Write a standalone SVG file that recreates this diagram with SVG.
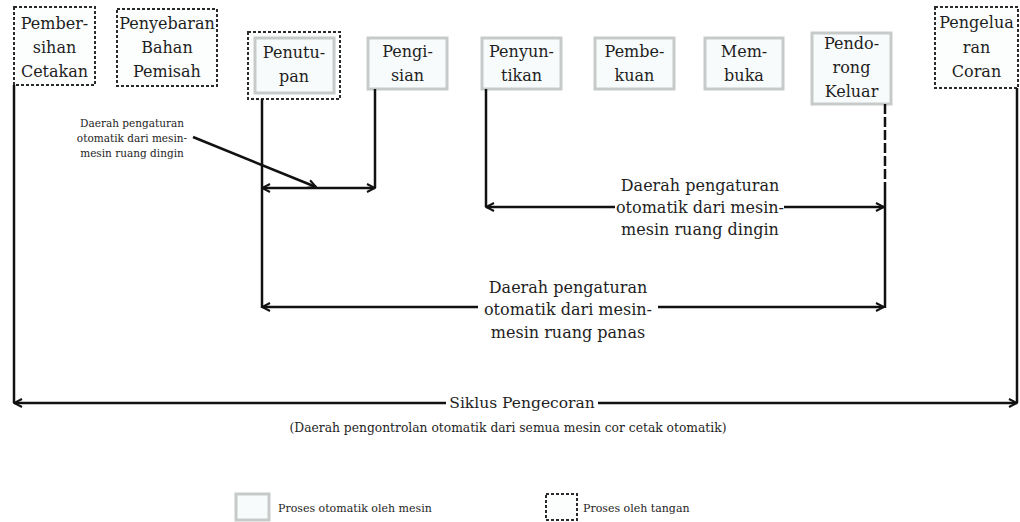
<svg xmlns="http://www.w3.org/2000/svg" width="1020" height="522" viewBox="0 0 1020 522">
<defs>
<marker id="ah" viewBox="0 0 10 10" refX="9" refY="5" markerWidth="10" markerHeight="10" markerUnits="userSpaceOnUse" orient="auto-start-reverse"><path d="M1,1 L9,5 L1,9" fill="none" stroke="#111" stroke-width="2"/></marker>
</defs>
<style>
.auto{fill:#f8fbfb;stroke:#c6cbca;stroke-width:3}
.manual{fill:#fcfdfd;stroke:#2a2a2a;stroke-width:2;stroke-dasharray:3 2}
.t{font-family:"DejaVu Serif","Liberation Serif",serif;font-size:16px;fill:#1e1e1e;text-anchor:middle}
.s{font-family:"DejaVu Serif","Liberation Serif",serif;font-size:10.5px;fill:#1e1e1e;text-anchor:middle}
.m{font-family:"DejaVu Serif","Liberation Serif",serif;font-size:12.3px;fill:#1e1e1e}
.ln{fill:none;stroke:#111;stroke-width:2.5}
</style>
<rect width="1020" height="522" fill="#ffffff"/>

<g id="node-pembersihan">
<rect class="manual" x="14" y="7" width="81" height="78"/>
<text class="t" x="54.5" y="29">Pember-</text>
<text class="t" x="54.5" y="53">sihan</text>
<text class="t" x="54.5" y="77">Cetakan</text>
</g>
<g id="node-penyebaran">
<rect class="manual" x="117" y="9" width="100" height="77"/>
<text class="t" x="167" y="29">Penyebaran</text>
<text class="t" x="167" y="53">Bahan</text>
<text class="t" x="167" y="77">Pemisah</text>
</g>
<g id="node-penutupan">
<rect class="manual" x="248" y="32" width="92" height="67"/>
<rect class="auto" x="255" y="38" width="79" height="55"/>
<text class="t" x="294" y="58">Penutu-</text>
<text class="t" x="294" y="82">pan</text>
</g>
<g id="node-pengisian">
<rect class="auto" x="368" y="38" width="79" height="51"/>
<text class="t" x="407.5" y="57">Pengi-</text>
<text class="t" x="407.5" y="81">sian</text>
</g>
<g id="node-penyuntikan">
<rect class="auto" x="482" y="38" width="79" height="51"/>
<text class="t" x="521.5" y="57">Penyun-</text>
<text class="t" x="521.5" y="81">tikan</text>
</g>
<g id="node-pembekuan">
<rect class="auto" x="595" y="38" width="79" height="51"/>
<text class="t" x="634.5" y="57">Pembe-</text>
<text class="t" x="634.5" y="81">kuan</text>
</g>
<g id="node-membuka">
<rect class="auto" x="705" y="38" width="78" height="51"/>
<text class="t" x="744" y="57">Mem-</text>
<text class="t" x="744" y="81">buka</text>
</g>
<g id="node-pendorong">
<rect class="auto" x="812" y="33" width="79" height="71"/>
<text class="t" x="851.5" y="49">Pendo-</text>
<text class="t" x="851.5" y="73">rong</text>
<text class="t" x="851.5" y="97">Keluar</text>
</g>
<g id="node-pengeluaran">
<rect class="manual" x="935" y="7" width="83" height="81"/>
<text class="t" x="976.5" y="28">Pengelua</text>
<text class="t" x="976.5" y="53">ran</text>
<text class="t" x="976.5" y="77">Coran</text>
</g>

<g id="connectors">
<line class="ln" x1="14" y1="85" x2="14" y2="403"/>
<line class="ln" x1="1017" y1="88" x2="1017" y2="403"/>
<line class="ln" x1="262" y1="99" x2="262" y2="308"/>
<line class="ln" x1="375" y1="89" x2="375" y2="188"/>
<line class="ln" x1="486" y1="89" x2="486" y2="207"/>
<line class="ln" x1="885" y1="104" x2="885" y2="190" stroke-dasharray="10 3"/>
<line class="ln" x1="885" y1="190" x2="885" y2="308"/>
<line class="ln" x1="262" y1="188" x2="375" y2="188" marker-start="url(#ah)" marker-end="url(#ah)"/>
<line class="ln" x1="193" y1="137" x2="316" y2="187" marker-end="url(#ah)"/>
<polyline class="ln" points="615,207 486,207" marker-end="url(#ah)"/>
<polyline class="ln" points="784,207 884,207" marker-end="url(#ah)"/>
<polyline class="ln" points="478,307 262,307" marker-end="url(#ah)"/>
<polyline class="ln" points="658,307 884,307" marker-end="url(#ah)"/>
<polyline class="ln" points="446,403 14,403" marker-end="url(#ah)"/>
<polyline class="ln" points="598,403 1017,403" marker-end="url(#ah)"/>
</g>

<g id="labels">
<text class="s" x="132" y="127">Daerah pengaturan</text>
<text class="s" x="132" y="142">otomatik dari mesin-</text>
<text class="s" x="132" y="157">mesin ruang dingin</text>
<text class="t" x="700" y="191">Daerah pengaturan</text>
<text class="t" x="700" y="213">otomatik dari mesin-</text>
<text class="t" x="700" y="235">mesin ruang dingin</text>
<text class="t" x="568" y="293">Daerah pengaturan</text>
<text class="t" x="568" y="315">otomatik dari mesin-</text>
<text class="t" x="568" y="338">mesin ruang panas</text>
<text class="t" x="522" y="408" style="font-size:15.5px">Siklus Pengecoran</text>
<text class="m" x="508" y="432" text-anchor="middle">(Daerah pengontrolan otomatik dari semua mesin cor cetak otomatik)</text>
</g>

<g id="legend">
<rect class="auto" x="236" y="494" width="33" height="26"/>
<text class="m" x="278" y="512" style="font-size:11px">Proses otomatik oleh mesin</text>
<rect class="manual" x="546" y="494" width="31" height="26"/>
<text class="m" x="583" y="512" style="font-size:11px">Proses oleh tangan</text>
</g>
</svg>
